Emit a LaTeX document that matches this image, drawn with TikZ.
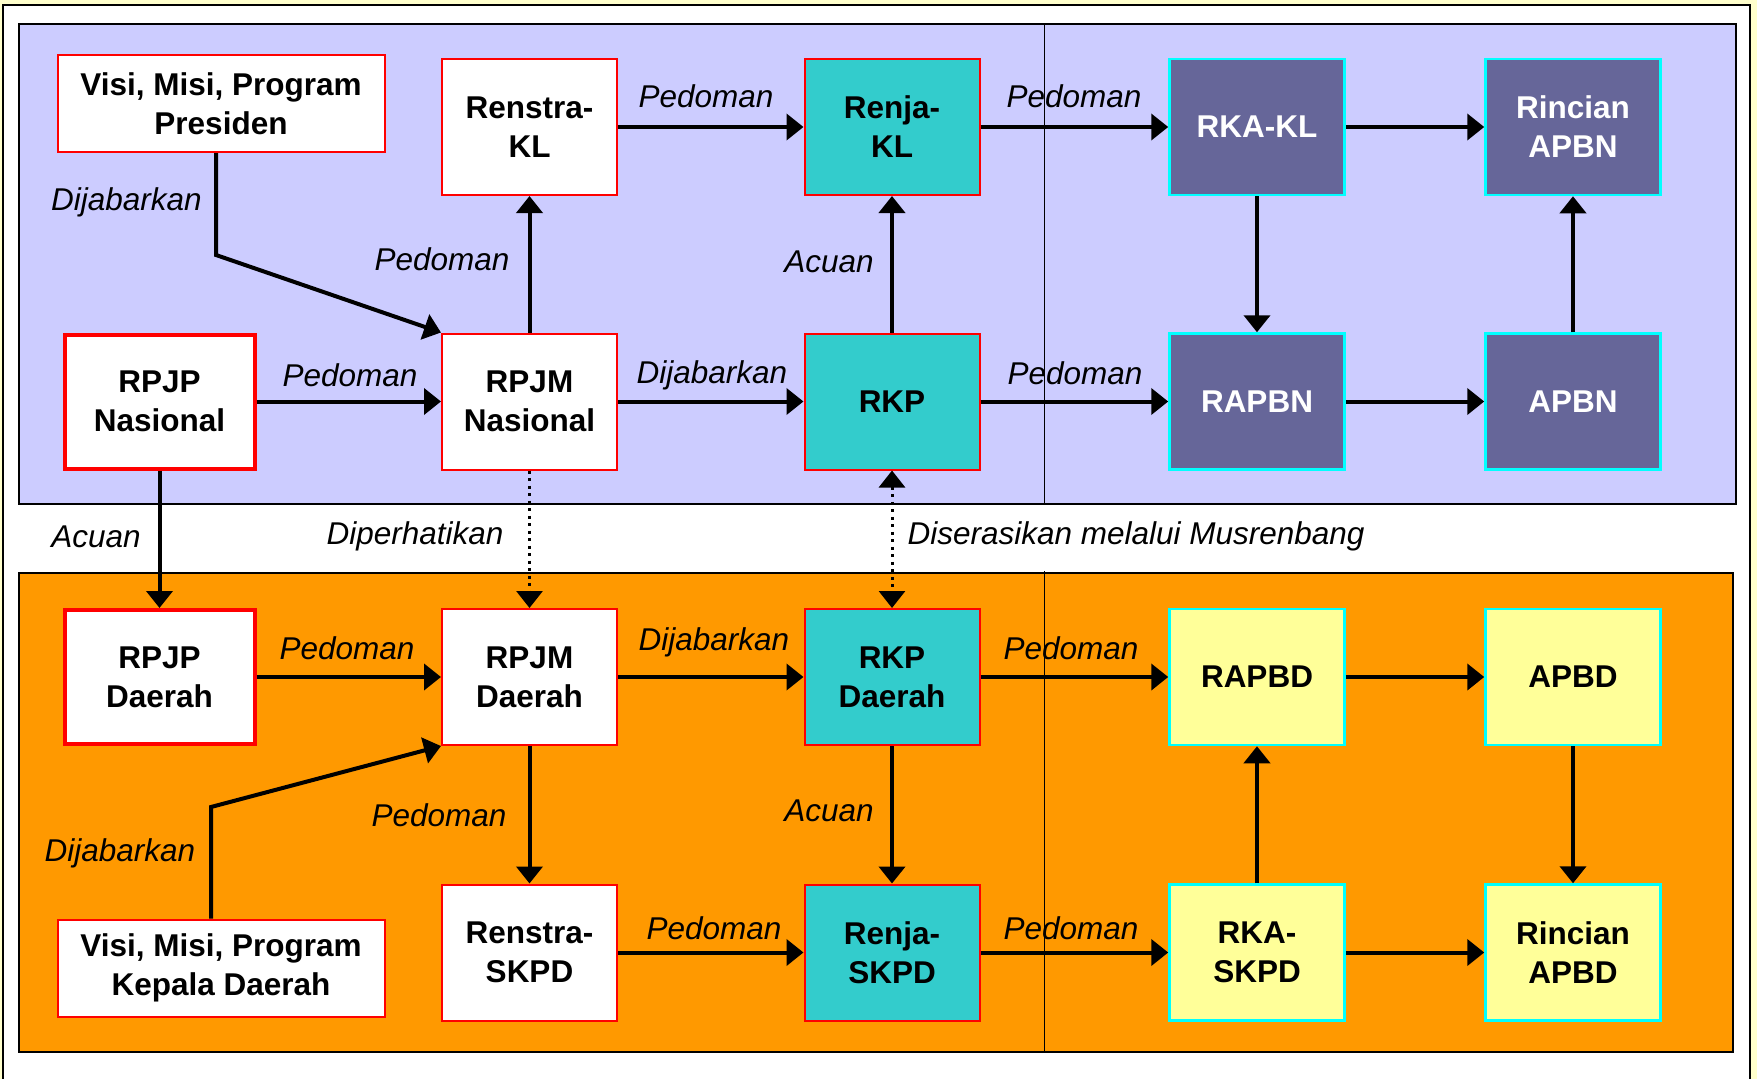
\documentclass[tikz,border=0pt]{standalone}
\usepackage{fontspec}
\setmainfont{Liberation Sans}
\usetikzlibrary{arrows.meta}
\definecolor{pagey}{HTML}{FFFFCC}
\definecolor{purp}{HTML}{CCCCFF}
\definecolor{orng}{HTML}{FF9900}
\definecolor{tealb}{HTML}{33CCCC}
\definecolor{dpurp}{HTML}{666699}
\definecolor{lyel}{HTML}{FFFF99}
\definecolor{cyn}{HTML}{00FFFF}
\definecolor{redb}{HTML}{FF0000}
\begin{document}
\begin{tikzpicture}[x=1pt,y=-1pt,
  box/.style={draw=redb, line width=2pt, fill=white, minimum width=175pt, minimum height=136pt,
    inner sep=0pt, align=center, font=\bfseries\fontsize{31.5}{39}\selectfont},
  whitebox/.style={box},
  thickred/.style={box, line width=4pt, minimum width=190pt, minimum height=134pt},
  visibox/.style={box, minimum width=327pt, minimum height=97pt},
  tealbox/.style={box, fill=tealb},
  dpbox/.style={box, draw=cyn, line width=2.5pt, fill=dpurp, text=white},
  ybox/.style={box, draw=cyn, line width=2.5pt, fill=lyel},
  lbl/.style={font=\itshape\fontsize{31.5}{39}\selectfont, inner sep=0pt},
  arr/.style={line width=4pt, -{Triangle[length=17pt,width=26pt]}},
  dotarr/.style={line width=3pt, dash pattern=on 3pt off 4.5pt, -{Triangle[length=17pt,width=26pt]}},
  dotarr2/.style={line width=3pt, dash pattern=on 3pt off 4.5pt, {Triangle[length=17pt,width=26pt]}-{Triangle[length=17pt,width=26pt]}},
  panel/.style={line width=2pt, draw=black}
]
\useasboundingbox (0,0) rectangle (1757,1079);
% page
\fill[pagey] (0,0) rectangle (1757,1079);
\fill[white] (3,5) rectangle (1750,1079);
\draw[line width=2.5pt] (3,1082) -- (3,5) -- (1750,5) -- (1750,1082);
% panels
\fill[purp] (19,24) rectangle (1736,504);
\draw[panel] (19,24) rectangle (1736,504);
\draw[line width=1.3pt] (1044.5,24) -- (1044.5,504);
\fill[orng] (19,573) rectangle (1733,1052);
\draw[panel] (19,573) rectangle (1733,1052);
\draw[line width=1.3pt] (1044.5,571) -- (1044.5,1052);

% nodes national
\node[visibox] (visiP) at (221,103.5) {Visi, Misi, Program\\Presiden};
\node[whitebox] (renstraKL) at (529.5,127) {Renstra-\\KL};
\node[tealbox] (renjaKL) at (892,127) {Renja-\\KL};
\node[dpbox] (rkakl) at (1257,127) {RKA-KL};
\node[dpbox] (rincianAPBN) at (1573,127) {Rincian\\APBN};
\node[thickred] (rpjpN) at (159.5,401.5) {RPJP\\Nasional};
\node[whitebox] (rpjmN) at (529.5,401.5) {RPJM\\Nasional};
\node[tealbox] (rkp) at (892,401.5) {RKP};
\node[dpbox] (rapbn) at (1257,401.5) {RAPBN};
\node[dpbox] (apbn) at (1573,401.5) {APBN};
% nodes daerah
\node[thickred] (rpjpD) at (159.5,677) {RPJP\\Daerah};
\node[whitebox] (rpjmD) at (529.5,677) {RPJM\\Daerah};
\node[tealbox] (rkpD) at (892,677) {RKP\\Daerah};
\node[ybox] (rapbd) at (1257,677) {RAPBD};
\node[ybox] (apbd) at (1573,677) {APBD};
\node[visibox] (visiD) at (221,968) {Visi, Misi, Program\\Kepala Daerah};
\node[whitebox] (renstraSKPD) at (529.5,952.5) {Renstra-\\SKPD};
\node[tealbox] (renjaSKPD) at (892,952.5) {Renja-\\SKPD};
\node[ybox] (rkaSKPD) at (1257,952.5) {RKA-\\SKPD};
\node[ybox] (rincianAPBD) at (1573,952.5) {Rincian\\APBD};

% connectors national
\coordinate (bendP) at (216,255);
\draw[arr] ([xshift=-5pt]visiP.south) -- (bendP) -- (rpjmN.north west);
\draw[arr] (rpjpN) -- (rpjmN);
\draw[arr] (rpjmN) -- (renstraKL);
\draw[arr] (renstraKL) -- (renjaKL);
\draw[arr] (rpjmN) -- (rkp);
\draw[arr] (rkp) -- (renjaKL);
\draw[arr] (renjaKL) -- (rkakl);
\draw[arr] (rkp) -- (rapbn);
\draw[arr] (rkakl) -- (rapbn);
\draw[arr] (rkakl) -- (rincianAPBN);
\draw[arr] (rapbn) -- (apbn);
\draw[arr] (apbn) -- (rincianAPBN);
% between
\draw[arr] (rpjpN) -- (rpjpD);
\draw[dotarr] (rpjmN) -- (rpjmD);
\draw[dotarr2] (rkp) -- (rkpD);
% connectors daerah
\coordinate (bendD) at (211,807);
\draw[arr] ([xshift=-10pt]visiD.north) -- (bendD) -- (rpjmD.south west);
\draw[arr] (rpjpD) -- (rpjmD);
\draw[arr] (rpjmD) -- (renstraSKPD);
\draw[arr] (rpjmD) -- (rkpD);
\draw[arr] (rkpD) -- (renjaSKPD);
\draw[arr] (renstraSKPD) -- (renjaSKPD);
\draw[arr] (rkpD) -- (rapbd);
\draw[arr] (renjaSKPD) -- (rkaSKPD);
\draw[arr] (rkaSKPD) -- (rapbd);
\draw[arr] (rapbd) -- (apbd);
\draw[arr] (apbd) -- (rincianAPBD);
\draw[arr] (rkaSKPD) -- (rincianAPBD);

% labels
\node[lbl] (l1) at (126.5,202) {Dijabarkan};
\node[lbl] (l2) at (442,259) {Pedoman};
\node[lbl] (l3) at (350,375) {Pedoman};
\node[lbl] (l4) at (706,96) {Pedoman};
\node[lbl] (l5) at (712,375) {Dijabarkan};
\node[lbl] (l6) at (829,262) {Acuan};
\node[lbl] (l7) at (1074,96) {Pedoman};
\node[lbl] (l8) at (1075,373) {Pedoman};
\node[lbl] (l9) at (96,537) {Acuan};
\node[lbl] (l10) at (415,536) {Diperhatikan};
\node[lbl] (l11) at (1136,536) {Diserasikan melalui Musrenbang};
\node[lbl] (l12) at (347,648) {Pedoman};
\node[lbl] (l13) at (714,642) {Dijabarkan};
\node[lbl] (l14) at (1071,648) {Pedoman};
\node[lbl] (l15) at (120,853) {Dijabarkan};
\node[lbl] (l16) at (439,815) {Pedoman};
\node[lbl] (l17) at (829,811) {Acuan};
\node[lbl] (l18) at (714,928) {Pedoman};
\node[lbl] (l19) at (1071,928) {Pedoman};
\end{tikzpicture}
\end{document}
